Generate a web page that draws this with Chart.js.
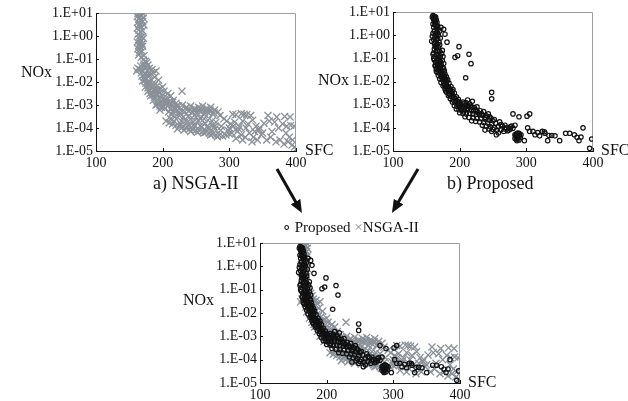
<!DOCTYPE html>
<html>
<head>
<meta charset="utf-8">
<script src="https://cdn.jsdelivr.net/npm/chart.js@4.4.1/dist/chart.umd.min.js"></script>
<style>
  body { margin: 0; background: #fff; }
  #wrap { position: relative; width: 628px; height: 401px; overflow: hidden; font-family: "Liberation Serif", "Times New Roman", serif; color: #111; }
  canvas, .lbl, svg { position: absolute; }
  .lbl { white-space: nowrap; line-height: 1; }
</style>
</head>
<body>
<div id="wrap">
  <canvas id="chA" width="310" height="170" style="left:0;top:0"></canvas>
  <canvas id="chB" width="307" height="170" style="left:300px;top:0"></canvas>
  <canvas id="chC" width="295" height="171" style="left:180px;top:230px"></canvas>

  <div class="lbl" style="left:21px;top:64px;font-size:16px">NOx</div>
  <div class="lbl" style="left:305px;top:142px;font-size:16px">SFC</div>
  <div class="lbl" style="left:318px;top:72px;font-size:16px">NOx</div>
  <div class="lbl" style="left:601px;top:142px;font-size:16px">SFC</div>
  <div class="lbl" style="left:183px;top:292px;font-size:16px">NOx</div>
  <div class="lbl" style="left:468px;top:374px;font-size:16px">SFC</div>

  <div class="lbl" style="left:153px;top:174px;font-size:18px">a) NSGA-II</div>
  <div class="lbl" style="left:447px;top:174px;font-size:18px">b) Proposed</div>
  <div class="lbl" style="left:282px;top:220px;font-size:15px"><span>∘</span> Proposed <span style="color:#8a9098">×</span>NSGA-II</div>

  <svg width="628" height="401" style="left:0;top:0">
    <defs>
      <marker id="head" markerUnits="userSpaceOnUse" markerWidth="13" markerHeight="11" refX="5" refY="5.5" orient="auto">
        <path d="M0,0 L13,5.5 L0,11 z" fill="#111"/>
      </marker>
    </defs>
    <line x1="277" y1="169" x2="298" y2="206" stroke="#111" stroke-width="3" marker-end="url(#head)"/>
    <line x1="418" y1="169" x2="396" y2="206" stroke="#111" stroke-width="3" marker-end="url(#head)"/>
  </svg>
</div>

<script>
// NSGA-II front: SFC vs NOx
const nsgaSfc = [
  163, 165, 167, 170, 162, 166, 169, 164, 168, 171, 163, 166,
  170, 165, 168, 162, 172, 164, 167, 170, 163, 166, 169, 165,
  168, 171, 162, 166, 169, 164, 167, 170, 163, 166, 169, 165,
  171, 174, 176, 172, 178, 175, 163, 166, 170, 180, 184, 168,
  174, 178, 186, 190, 172, 176, 182, 188, 194, 170, 175, 180,
  185, 192, 174, 178, 183, 188, 195, 200, 178, 184, 190, 196,
  202, 208, 182, 188, 194, 200, 206, 212, 186, 192, 198, 204,
  210, 216, 190, 196, 202, 208, 214, 220, 229, 212, 218, 224,
  230, 236, 242, 248, 254, 260, 266, 272, 278, 215, 221, 227,
  233, 239, 245, 251, 257, 263, 269, 275, 283, 218, 225, 231,
  238, 244, 250, 256, 262, 268, 274, 280, 205, 210, 215, 220,
  225, 230, 235, 240, 245, 250, 255, 260, 265, 270, 275, 280,
  285, 290, 295, 300, 222, 232, 242, 252, 262, 272, 282, 238,
  248, 258, 268, 278, 305, 310, 318, 322, 326, 332, 358, 371,
  383, 391, 296, 302, 308, 315, 320, 328, 335, 340, 346, 352,
  360, 368, 380, 386, 392, 397, 298, 304, 312, 318, 324, 330,
  336, 342, 348, 356, 362, 370, 376, 382, 388, 394, 398, 400,
  320, 310, 334,
  192, 198, 204, 210, 196, 203, 209, 214, 219, 226, 234, 241,
  247, 253, 259, 265, 271, 277, 286, 292, 228, 236, 246, 254,
  264, 276, 288, 227, 237, 247, 257, 267, 277, 287, 212, 217,
  164, 168, 172, 161, 167, 173, 177, 181, 169, 173, 179, 183,
  187, 191, 181, 193, 199, 205, 185, 195, 205, 215, 221, 198,
  300, 306, 314, 325, 338, 344, 350, 364, 374, 385, 390, 395
];
const nsgaNox = [
  9.5, 9, 8.5, 9.8, 7, 6.5, 7.5, 5.5, 5, 6, 4, 3.5,
  4.2, 2.8, 2.5, 2.2, 3, 1.8, 1.5, 1.7, 1.2, 1, 0.9, 0.75,
  0.65, 0.8, 0.55, 0.5, 0.45, 0.38, 0.33, 0.36, 0.28, 0.25, 0.22, 0.19,
  0.09, 0.08, 0.07, 0.06, 0.055, 0.045, 0.04, 0.035, 0.03, 0.04, 0.035, 0.025,
  0.022, 0.02, 0.025, 0.03, 0.016, 0.014, 0.013, 0.016, 0.012, 0.011, 0.009, 0.008,
  0.0085, 0.007, 0.006, 0.0055, 0.005, 0.0045, 0.005, 0.006, 0.004, 0.0035, 0.003, 0.0035,
  0.004, 0.0032, 0.0025, 0.0022, 0.002, 0.0018, 0.0021, 0.0025, 0.0016, 0.0014, 0.0013, 0.0012,
  0.0014, 0.0016, 0.001, 0.0009, 0.00085, 0.0009, 0.001, 0.0012, 0.004, 7e-4, 8e-4, 9e-4,
  1e-3, 8e-4, 9e-4, 7e-4, 8e-4, 9e-4, 7e-4, 8e-4, 6e-4, 5e-4, 5.5e-4, 6e-4,
  5e-4, 5.5e-4, 5e-4, 4.5e-4, 5e-4, 4e-4, 4.5e-4, 4e-4, 5e-4, 3e-4, 3.5e-4, 3e-4,
  3.2e-4, 2.8e-4, 3e-4, 2.7e-4, 2.5e-4, 2.2e-4, 2e-4, 1.8e-4, 2e-4, 1.7e-4, 1.5e-4, 1.3e-4,
  1.2e-4, 1.1e-4, 1e-4, 9e-5, 8.5e-5, 8e-5, 7.5e-5, 7e-5, 6.5e-5, 6e-5, 5.5e-5, 5e-5,
  4.8e-5, 4.5e-5, 5e-5, 5.5e-5, 9e-5, 8e-5, 7e-5, 6.5e-5, 6e-5, 5e-5, 4.2e-5, 1.3e-4,
  1.2e-4, 1.1e-4, 1e-4, 9e-5, 4e-4, 3.8e-4, 4.2e-4, 4e-4, 3.8e-4, 3.5e-4, 3.5e-4, 3e-4,
  3.2e-4, 3e-4, 2e-4, 1.5e-4, 1.8e-4, 1.2e-4, 2e-4, 1.5e-4, 2.2e-4, 1.2e-4, 1e-4, 1.6e-4,
  2e-4, 1.8e-4, 1.5e-4, 1.2e-4, 1.3e-4, 1.2e-4, 8e-5, 6e-5, 7e-5, 5e-5, 4e-5, 6e-5,
  4e-5, 3e-5, 5e-5, 3e-5, 4e-5, 2.5e-5, 3e-5, 2e-5, 2.5e-5, 1.8e-5, 1.5e-5, 1.2e-5,
  3e-5, 3.5e-5, 2.5e-5,
  1.1e-3, 1.3e-3, 1.5e-3, 1.1e-3, 6e-4, 7e-4, 5e-4, 4e-4, 6.5e-4, 4.5e-4, 7e-4, 6e-4,
  5.8e-4, 6e-4, 6.5e-4, 5.5e-4, 6e-4, 4.5e-4, 3.5e-4, 2.5e-4, 2e-4, 2.2e-4, 1.8e-4, 2e-4,
  1.6e-4, 1.4e-4, 1.2e-4, 1.5e-4, 1.7e-4, 1.4e-4, 1.3e-4, 1.2e-4, 1.1e-4, 8e-5, 2.5e-4, 2e-4,
  0.15, 0.12, 0.14, 0.03, 0.05, 0.045, 0.03, 0.02, 0.018, 0.012, 0.01, 0.006,
  0.007, 0.0045, 0.0032, 0.0028, 0.0025, 0.0016, 0.0028, 0.0011, 0.0011, 0.0013, 0.0009, 0.0008,
  1e-4, 1.2e-4, 9e-5, 1e-4, 7e-5, 8e-5, 6e-5, 7e-5, 1e-4, 6e-5, 4e-5, 3e-5
];

// proposed method front
const propSfc = [
  160, 162, 164, 161, 163, 165, 162, 164, 166, 160, 163, 167,
  161, 165, 168, 162, 166, 170, 160, 164, 168, 163, 167, 171,
  158, 165, 169, 162, 166, 170, 164, 168, 176, 178, 172, 162,
  166, 170, 174, 161, 165, 169, 173, 163, 167, 171, 175, 162,
  166, 170, 174, 164, 168, 172, 176, 163, 167, 171, 175, 165,
  169, 173, 177, 166, 170, 174, 178, 168, 172, 176, 180, 170,
  174, 178, 182, 181, 199, 193, 197, 214, 217, 209, 248, 248,
  172, 176, 180, 184, 175, 179, 183, 187, 178, 182, 186, 190,
  180, 184, 188, 192, 183, 187, 191, 195, 186, 190, 194, 198,
  189, 193, 197, 201, 205, 210, 215, 192, 196, 200, 204, 208,
  213, 218, 222, 226, 195, 199, 203, 207, 212, 217, 221, 226,
  231, 236, 200, 205, 210, 215, 220, 225, 230, 235, 240, 245,
  208, 214, 220, 226, 232, 238, 244, 250, 218, 224, 230, 236,
  242, 248, 254, 260, 199, 212, 219, 206, 234, 240, 246, 252,
  258, 264, 270, 276, 244, 250, 256, 262, 268, 274, 280, 238,
  248, 258, 266, 272, 255, 278, 283, 283, 285, 287, 289, 284,
  286, 288, 290, 283, 285, 287, 289, 291, 286, 292, 280, 289,
  301, 305, 302, 305, 310, 317, 324, 328, 334, 338, 350, 359,
  365, 376, 379, 385, 398, 395, 297, 313, 320, 327, 343, 372,
  382, 332,
  159, 161, 163, 165, 167, 159, 161, 163, 165, 167, 169, 171,
  160, 164, 168, 172, 176, 161, 165, 169, 173, 177, 179, 181,
  177, 181, 185, 189, 179, 185, 189, 193, 196, 200, 203, 207,
  211, 216, 224, 228, 233, 239, 243, 247, 252, 262, 268, 276
];
const propNox = [
  7, 6.5, 6, 5.5, 5, 4.5, 4, 3.8, 3.5, 3, 2.8, 2.5,
  2.2, 2, 1.8, 1.5, 1.3, 1.5, 1.2, 1.1, 1, 0.8, 0.7, 0.75,
  0.55, 0.6, 0.5, 0.45, 0.4, 0.38, 0.32, 0.3, 1.8, 1.1, 2.2, 0.25,
  0.22, 0.2, 0.22, 0.17, 0.15, 0.14, 0.16, 0.12, 0.1, 0.11, 0.12, 0.085,
  0.08, 0.075, 0.08, 0.065, 0.06, 0.055, 0.06, 0.048, 0.045, 0.042, 0.04, 0.035,
  0.032, 0.03, 0.028, 0.025, 0.022, 0.02, 0.021, 0.018, 0.016, 0.015, 0.016, 0.013,
  0.012, 0.011, 0.012, 0.5, 0.32, 0.11, 0.13, 0.15, 0.059, 0.0145, 0.0034, 0.0018,
  0.009, 0.0085, 0.008, 0.0085, 0.0065, 0.006, 0.0058, 0.006, 0.0048, 0.0045, 0.0042, 0.0045,
  0.0035, 0.0032, 0.003, 0.0032, 0.0025, 0.0023, 0.0021, 0.0022, 0.0018, 0.0016, 0.0015, 0.0017,
  1.3e-3, 1.2e-3, 1.1e-3, 1.2e-3, 1.3e-3, 1.2e-3, 1.1e-3, 9e-4, 8.5e-4, 8e-4, 8.5e-4, 9e-4,
  8.5e-4, 8e-4, 7.5e-4, 8e-4, 6.5e-4, 6e-4, 5.8e-4, 6e-4, 6.2e-4, 5.8e-4, 5.5e-4, 5.2e-4,
  5.5e-4, 5e-4, 4.5e-4, 4.2e-4, 4e-4, 4.2e-4, 4e-4, 3.8e-4, 3.6e-4, 3.5e-4, 3.3e-4, 3e-4,
  3e-4, 2.8e-4, 2.7e-4, 2.6e-4, 2.5e-4, 2.4e-4, 2.2e-4, 2e-4, 2e-4, 1.9e-4, 1.8e-4, 1.7e-4,
  1.6e-4, 1.5e-4, 1.6e-4, 1.8e-4, 1.3e-3, 1.6e-3, 1.4e-3, 4.8e-4, 1.3e-4, 1.2e-4, 1.1e-4, 1e-4,
  1.1e-4, 1.2e-4, 1e-4, 1.1e-4, 9e-5, 8.5e-5, 8e-5, 8.5e-5, 9e-5, 8e-5, 9.5e-5, 8e-5,
  7e-5, 6e-5, 7e-5, 7.5e-5, 5e-5, 1.2e-4, 1.3e-4, 5e-5, 5.5e-5, 6e-5, 5.8e-5, 4.5e-5,
  4e-5, 4.2e-5, 4.8e-5, 3.5e-5, 3.2e-5, 3.6e-5, 3e-5, 3.8e-5, 2.8e-5, 5e-5, 4e-4, 3e-4,
  3.2e-4, 4e-4, 1e-4, 7e-5, 7e-5, 6.3e-5, 7e-5, 5.8e-5, 4.7e-5, 4.7e-5, 2.8e-5, 5.8e-5,
  5.8e-5, 3.9e-5, 2.8e-5, 1e-4, 3.3e-5, 1.3e-5, 2.8e-5, 5e-5, 4.5e-5, 6.8e-5, 4.5e-5, 5e-5,
  4e-5, 2.8e-5,
  6, 4.8, 3.3, 2.4, 1.2, 0.9, 0.65, 0.35, 0.28, 0.2, 0.09, 0.07,
  0.15, 0.05, 0.038, 0.05, 0.035, 0.1, 0.028, 0.027, 0.024, 0.018, 0.013, 0.01,
  0.007, 0.0055, 0.005, 0.0038, 0.004, 0.0027, 0.0026, 0.0019, 0.0014, 0.001, 0.0007, 0.0011,
  7e-4, 9.5e-4, 6e-4, 4.5e-4, 4e-4, 2.8e-4, 4e-4, 2.6e-4, 2.3e-4, 1.4e-4, 1.3e-4, 9e-5
];

// axis ticks
const sfcTicks = [100, 200, 300, 400];
const noxDecades = [1e-5, 1e-4, 1e-3, 1e-2, 1e-1, 1, 10];
const noxLabels = ['1.E-05', '1.E-04', '1.E-03', '1.E-02', '1.E-01', '1.E+00', '1.E+01'];

const GRAY = '#8a9098';
Chart.defaults.font.family = '"Liberation Serif", "Times New Roman", serif';
Chart.defaults.color = '#111';

const pts = (xs, ys) => xs.map((x, i) => ({ x: x, y: ys[i] }));

const nsgaSet = () => ({
  label: 'NSGA-II', data: pts(nsgaSfc, nsgaNox),
  pointStyle: 'crossRot', pointRadius: 5, borderColor: GRAY, borderWidth: 1.3
});
const propSet = () => ({
  label: 'Proposed', data: pts(propSfc, propNox),
  pointStyle: 'circle', pointRadius: 2.2, borderColor: '#111',
  backgroundColor: 'rgba(0,0,0,0)', borderWidth: 1.2
});

// gray top/right frame and small inward ticks
const frame = {
  id: 'frame',
  beforeDatasetsDraw(chart) {
    const { ctx, chartArea: a, scales } = chart;
    ctx.save();
    ctx.lineWidth = 1;
    ctx.strokeStyle = '#9aa0a6';
    ctx.beginPath();
    ctx.moveTo(a.left, a.top + 0.5);
    ctx.lineTo(a.right - 0.5, a.top + 0.5);
    ctx.lineTo(a.right - 0.5, a.bottom);
    ctx.stroke();
    ctx.strokeStyle = '#111';
    ctx.beginPath();
    scales.y.ticks.forEach(t => {
      const py = Math.round(scales.y.getPixelForValue(t.value)) + 0.5;
      ctx.moveTo(a.left, py); ctx.lineTo(a.left + 3, py);
    });
    scales.x.ticks.forEach(t => {
      const px = Math.round(scales.x.getPixelForValue(t.value)) + 0.5;
      ctx.moveTo(px, a.bottom); ctx.lineTo(px, a.bottom - 3);
    });
    ctx.stroke();
    ctx.restore();
  }
};

function makeChart(id, datasets, yW, xH, pad) {
  return new Chart(document.getElementById(id), {
    type: 'scatter',
    data: { datasets: datasets },
    plugins: [frame],
    options: {
      responsive: false,
      animation: false,
      layout: { padding: pad },
      plugins: { legend: { display: false }, tooltip: { enabled: false } },
      scales: {
        x: {
          type: 'linear', min: 100, max: 400,
          afterBuildTicks: s => { s.ticks = sfcTicks.map(v => ({ value: v })); },
          afterFit: s => { s.height = xH; s.paddingLeft = 0; s.paddingRight = 0; },
          grid: { display: false, drawTicks: false },
          border: { display: true, color: '#111', width: 1 },
          ticks: { font: { size: 14 }, padding: 4, maxRotation: 0 }
        },
        y: {
          type: 'logarithmic', min: 1e-5, max: 10,
          afterBuildTicks: s => { s.ticks = noxDecades.map(v => ({ value: v })); },
          afterFit: s => { s.width = yW; s.paddingTop = 0; s.paddingBottom = 0; },
          grid: { display: false, drawTicks: false },
          border: { display: true, color: '#111', width: 1 },
          ticks: { font: { size: 14 }, padding: 3, callback: (v, i) => noxLabels[i] }
        }
      }
    }
  });
}

makeChart('chA', [nsgaSet()], 96, 19, { top: 13, right: 14, left: 0, bottom: 0 });
makeChart('chB', [propSet()], 93, 19, { top: 12, right: 14, left: 0, bottom: 0 });
makeChart('chC', [propSet(), nsgaSet()], 80, 18, { top: 13, right: 15, left: 0, bottom: 0 });
</script>
</body>
</html>
